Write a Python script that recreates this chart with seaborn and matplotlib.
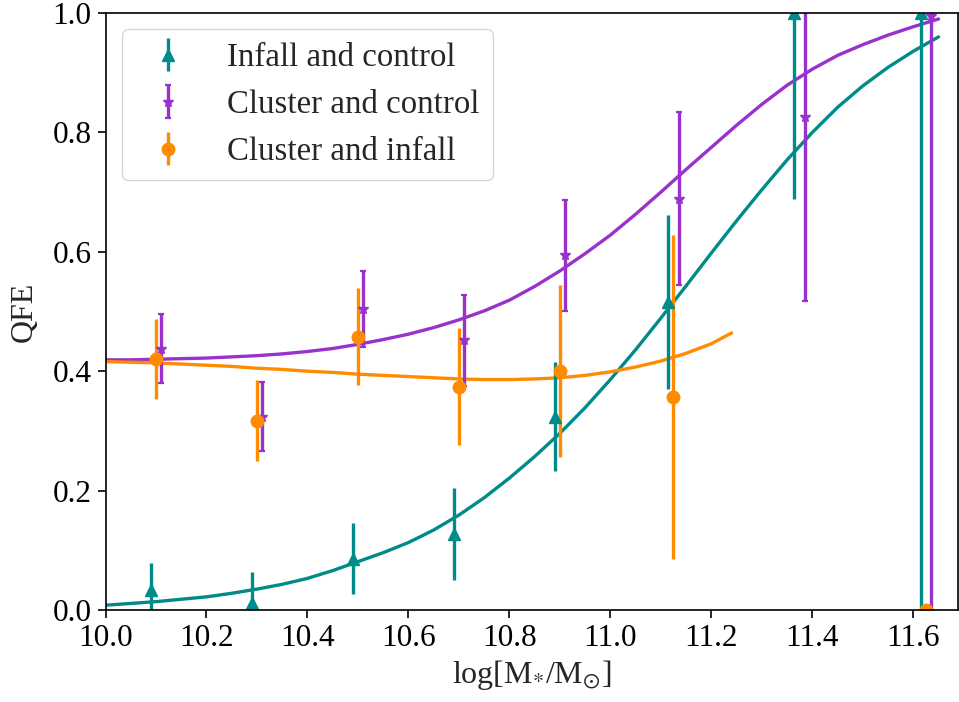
import numpy as np
import pandas as pd
import matplotlib
matplotlib.use("Agg")
import matplotlib.pyplot as plt
import seaborn as sns

# ---- data points ----
ic_x = [10.09, 10.29, 10.49, 10.69, 10.89, 11.114, 11.364, 11.615]
ic_y = [0.034, 0.012, 0.086, 0.128, 0.324, 0.516, 1.0, 1.0]
ic_err = [0.045, 0.052, 0.059, 0.077, 0.091, 0.146, 0.312, 1.0]

cc_x = [10.11, 10.31, 10.51, 10.71, 10.91, 11.136, 11.385, 11.635]
cc_y = [0.438, 0.324, 0.504, 0.452, 0.594, 0.689, 0.825, 0.995]
cc_err = [0.057, 0.058, 0.064, 0.076, 0.093, 0.145, 0.307, 0.995]

ci_x = [10.10, 10.30, 10.50, 10.70, 10.90, 11.124, 11.625]
ci_y = [0.420, 0.317, 0.458, 0.374, 0.400, 0.357, 0.0]
ci_err = [0.067, 0.068, 0.081, 0.098, 0.144, 0.271, 0.0]

# ---- fitted curves ----
ic_fit_x = [10.0, 10.05, 10.1, 10.15, 10.2, 10.25, 10.3, 10.35, 10.4, 10.45, 10.5, 10.55,
            10.6, 10.65, 10.7, 10.75, 10.8, 10.85, 10.9, 10.95, 11.0, 11.05, 11.1, 11.15,
            11.2, 11.25, 11.3, 11.35, 11.4, 11.45, 11.5, 11.55, 11.6, 11.65]
ic_fit_y = [0.008, 0.011, 0.014, 0.018, 0.022, 0.028, 0.035, 0.043, 0.053, 0.066, 0.081, 0.096,
            0.113, 0.134, 0.159, 0.188, 0.221, 0.257, 0.296, 0.339, 0.386, 0.436, 0.489, 0.543,
            0.598, 0.652, 0.704, 0.754, 0.800, 0.842, 0.878, 0.909, 0.936, 0.960]

cc_fit_x = [10.0, 10.05, 10.1, 10.15, 10.2, 10.25, 10.3, 10.35, 10.4, 10.45, 10.5, 10.55,
            10.6, 10.65, 10.7, 10.75, 10.8, 10.85, 10.9, 10.95, 11.0, 11.05, 11.1, 11.15,
            11.2, 11.25, 11.3, 11.35, 11.4, 11.45, 11.5, 11.55, 11.6, 11.65]
cc_fit_y = [0.419, 0.419, 0.420, 0.421, 0.422, 0.424, 0.426, 0.429, 0.433, 0.438, 0.445, 0.453,
            0.462, 0.473, 0.486, 0.501, 0.519, 0.542, 0.568, 0.597, 0.628, 0.663, 0.700, 0.738,
            0.775, 0.812, 0.847, 0.879, 0.906, 0.929, 0.947, 0.963, 0.977, 0.990]

ci_fit_x = [10.0, 10.05, 10.1, 10.15, 10.2, 10.25, 10.3, 10.35, 10.4, 10.45, 10.5, 10.55,
            10.6, 10.65, 10.7, 10.75, 10.8, 10.85, 10.9, 10.95, 11.0, 11.05, 11.1, 11.15,
            11.2, 11.24]
ci_fit_y = [0.416, 0.415, 0.414, 0.412, 0.410, 0.408, 0.405, 0.403, 0.400, 0.398, 0.395, 0.393,
            0.391, 0.389, 0.387, 0.386, 0.386, 0.387, 0.389, 0.393, 0.399, 0.407, 0.417, 0.430,
            0.446, 0.464]

labels = ["Infall and control", "Cluster and control", "Cluster and infall"]
colors = ["#008B8B", "#9932CC", "#FF8C00"]
x_ticks = [10.0, 10.2, 10.4, 10.6, 10.8, 11.0, 11.2, 11.4, 11.6]
y_ticks = [0.0, 0.2, 0.4, 0.6, 0.8, 1.0]

sns.set_style("ticks")
plt.rcParams["font.family"] = ["Liberation Serif", "DejaVu Serif"]
plt.rcParams["mathtext.fontset"] = "stix"

fig = plt.figure(figsize=(9.59, 7.02), dpi=100)
ax = fig.add_axes([105.5 / 959, 1 - 610 / 702, (958 - 105.5) / 959, (610 - 13) / 702])

lw = 2.4
for fx, fy, c in [(ic_fit_x, ic_fit_y, colors[0]),
                  (cc_fit_x, cc_fit_y, colors[1]),
                  (ci_fit_x, ci_fit_y, colors[2])]:
    sns.lineplot(data=pd.DataFrame({"x": fx, "y": fy}), x="x", y="y",
                 color=c, lw=lw, ax=ax, legend=False, sort=False)

ax.errorbar(ic_x, ic_y, yerr=ic_err, fmt="^", color=colors[0], ms=9, elinewidth=2.4,
            capsize=0, label=labels[0])
ax.errorbar(cc_x, cc_y, yerr=cc_err, fmt="*", color=colors[1], ms=7, elinewidth=2.4,
            capsize=2, capthick=1.6, label=labels[1])
ax.errorbar(ci_x, ci_y, yerr=ci_err, fmt="o", color=colors[2], ms=9, elinewidth=2.4,
            capsize=0, label=labels[2])

ax.set_xlim(10.0, 11.6885)
ax.set_ylim(0.0, 1.0)
ax.set_xticks(x_ticks)
ax.set_xticklabels([f"{t:.1f}" for t in x_ticks])
ax.set_yticks(y_ticks)
ax.set_yticklabels([f"{t:.1f}" for t in y_ticks])
ax.tick_params(labelsize=22.5, length=6, width=1.2, colors="black", pad=4)
for s in ax.spines.values():
    s.set_linewidth(1.2)
    s.set_color("black")

ax.set_xlabel(r"log[M$_{*}$/M$_{\odot}$]", fontsize=23, labelpad=4)
ax.set_ylabel("QFE", fontsize=23, labelpad=10)

ax.legend(loc="upper left", fontsize=23.7, frameon=True)

fig.savefig("out.png", dpi=100)
